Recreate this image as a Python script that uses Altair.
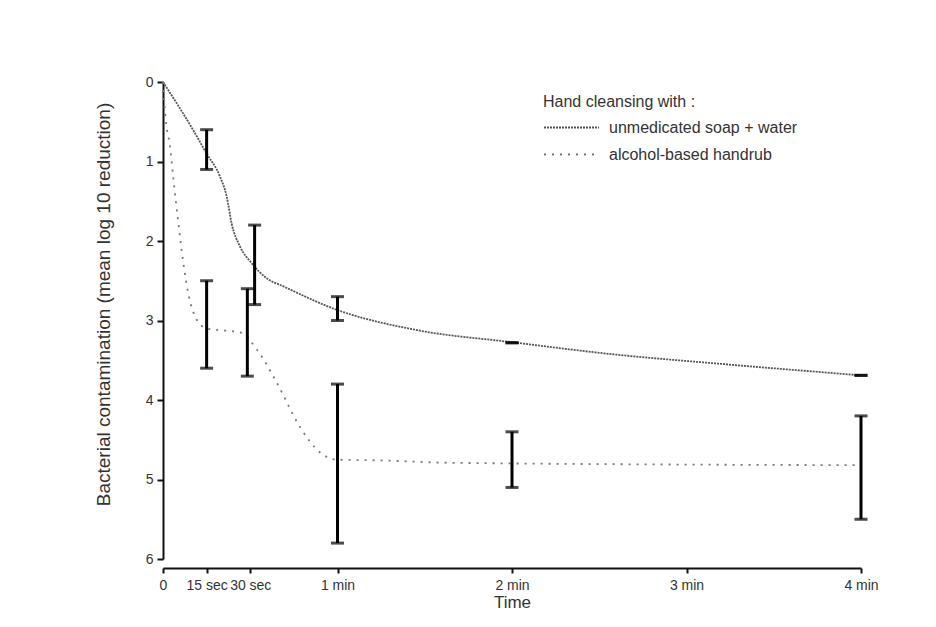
import altair as alt
import pandas as pd

FONT = "Liberation Sans"

# x axis ticks (seconds) and labels
tick_vals = [0, 15, 30, 60, 120, 180, 240]
tick_labels = ["0", "15 sec", "30 sec", "1 min", "2 min", "3 min", "4 min"]

series_names = ["unmedicated soap + water", "alcohol-based handrub"]

# curve: unmedicated soap + water
soap_t = [0, 10.3, 15, 19.6, 21.9, 23.6, 26.5, 30.5, 35.7, 41.4, 58.6, 87.2, 119.3, 156, 190, 240]
soap_y = [0, 0.60, 0.90, 1.19, 1.44, 1.78, 2.07, 2.28, 2.47, 2.57, 2.85, 3.12, 3.27, 3.43, 3.54, 3.69]

# curve: alcohol-based handrub
alc_t = [0, 0.7, 2.4, 3.6, 5.3, 7.0, 8.7, 11.6, 15, 26.5, 32.2, 39.1, 47.1, 54, 59.7, 75, 99, 240]
alc_y = [0, 0.39, 0.81, 1.23, 1.78, 2.28, 2.66, 2.99, 3.10, 3.15, 3.36, 3.78, 4.34, 4.66, 4.75, 4.76, 4.79, 4.82]

# error bars
soap_bar_t = [15, 31.5, 60, 120, 240]
soap_bar_lo = [0.6, 1.8, 2.7, 3.28, 3.69]
soap_bar_hi = [1.1, 2.8, 3.0, 3.28, 3.69]

alc_bar_t = [15, 29, 60, 120, 240]
alc_bar_lo = [2.5, 2.6, 3.8, 4.4, 4.2]
alc_bar_hi = [3.6, 3.7, 5.8, 5.1, 5.5]

lines = pd.concat([
    pd.DataFrame({"t": soap_t, "y": soap_y, "series": series_names[0]}),
    pd.DataFrame({"t": alc_t, "y": alc_y, "series": series_names[1]}),
])
bars = pd.concat([
    pd.DataFrame({"t": soap_bar_t, "lo": soap_bar_lo, "hi": soap_bar_hi}),
    pd.DataFrame({"t": alc_bar_t, "lo": alc_bar_lo, "hi": alc_bar_hi}),
])

label_expr = " : ".join(
    [f"datum.value == {v} ? '{l}'" for v, l in zip(tick_vals, tick_labels)]
) + " : ''"

xscale = alt.Scale(domain=[0, 240], nice=False, zero=True)
yscale = alt.Scale(domain=[0, 6], reverse=True, nice=False)

xaxis = alt.Axis(
    values=tick_vals, labelExpr=label_expr, title="Time", offset=9,
    grid=False, labelOverlap=False, labelFlush=False, tickSize=5,
    labelFontSize=14, titleFontSize=17, titleFontWeight="normal",
    labelColor="#333", titleColor="#333", labelFont=FONT, titleFont=FONT,
    domainColor="#111", domainWidth=2, tickColor="#111", tickWidth=2,
    labelPadding=5, titlePadding=2,
)
yaxis = alt.Axis(
    values=[0, 1, 2, 3, 4, 5, 6], format="d",
    title="Bacterial contamination (mean log 10 reduction)",
    grid=False, tickSize=6, labelFontSize=14, titleFontSize=19,
    titleFontWeight="normal", labelColor="#333", titleColor="#333",
    labelFont=FONT, titleFont=FONT, domainColor="#111", domainWidth=2,
    tickColor="#111", tickWidth=2, labelPadding=4, titlePadding=32, titleY=222,
)

line_layer = alt.Chart(lines).mark_line(interpolate="monotone", strokeWidth=1.8).encode(
    x=alt.X("t:Q", scale=xscale, axis=xaxis),
    y=alt.Y("y:Q", scale=yscale, axis=yaxis),
    color=alt.Color("series:N", scale=alt.Scale(domain=series_names, range=["#555555", "#777777"]),
                    title="Hand cleansing with :"),
    strokeDash=alt.StrokeDash("series:N", scale=alt.Scale(domain=series_names, range=[[2, 1], [2, 6]]),
                              title="Hand cleansing with :"),
    detail="series:N",
)

rule_layer = alt.Chart(bars).mark_rule(color="#000", strokeWidth=3).encode(
    x="t:Q", y="lo:Q", y2="hi:Q"
)
cap_lo = alt.Chart(bars).mark_tick(color="#000", size=13, thickness=3, orient="horizontal").encode(
    x="t:Q", y="lo:Q"
)
cap_hi = alt.Chart(bars).mark_tick(color="#000", size=13, thickness=3, orient="horizontal").encode(
    x="t:Q", y="hi:Q"
)

chart = alt.layer(line_layer, rule_layer, cap_lo, cap_hi).properties(
    width=698, height=477,
    autosize=alt.AutoSizeParams(type="none"),
    padding={"left": 155, "top": 74, "right": 60, "bottom": 62},
).configure_view(stroke=None).configure_legend(
    orient="none", legendX=380, legendY=12,
    titleFontSize=16, titleFontWeight="normal", titleColor="#333", titleFont=FONT,
    labelFontSize=16, labelColor="#333", labelFont=FONT, labelLimit=400,
    symbolType="M-1,0H3.4", symbolSize=625, symbolStrokeWidth=2,
    titlePadding=4, rowPadding=5, labelOffset=39,
)

chart.save("out.html", embed_options={"renderer": "svg", "actions": False})
